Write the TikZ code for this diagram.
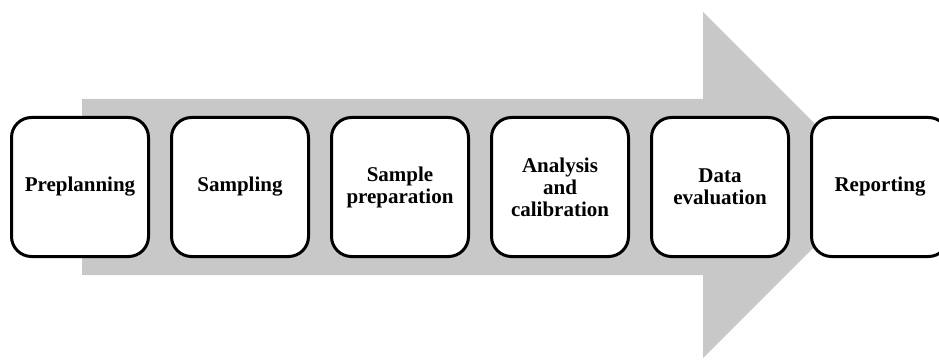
\documentclass[tikz,border=0pt]{standalone}
\usepackage{fontspec}
\setmainfont{Liberation Serif}
\definecolor{arrowgray}{RGB}{200,200,200}

\begin{document}
\begin{tikzpicture}[x=1pt,y=1pt,every node/.style={draw,line width=3pt,rounded corners=20pt,fill=white,minimum width=137pt,minimum height=139pt,align=center,font=\fontsize{21}{22}\selectfont\bfseries}]
      \useasboundingbox (0,0) rectangle (939,359);
      % big arrow behind the steps
      \fill[arrowgray] (82,84) -- (82,260) -- (703,260) -- (703,347) -- (876,174) -- (703,1) -- (703,84) -- cycle;
      \pgfmathtruncatemacro\pitch{160}
      \foreach \lbl [count=\i] in {Preplanning,Sampling,Sample\\preparation,Analysis\\and\\calibration,Data\\evaluation,Reporting} {
        \pgfmathtruncatemacro\x{80+(\i-1)*\pitch}
        \node (step\i) at (\x,172) {\lbl};
      }
    \end{tikzpicture}
\end{document}
